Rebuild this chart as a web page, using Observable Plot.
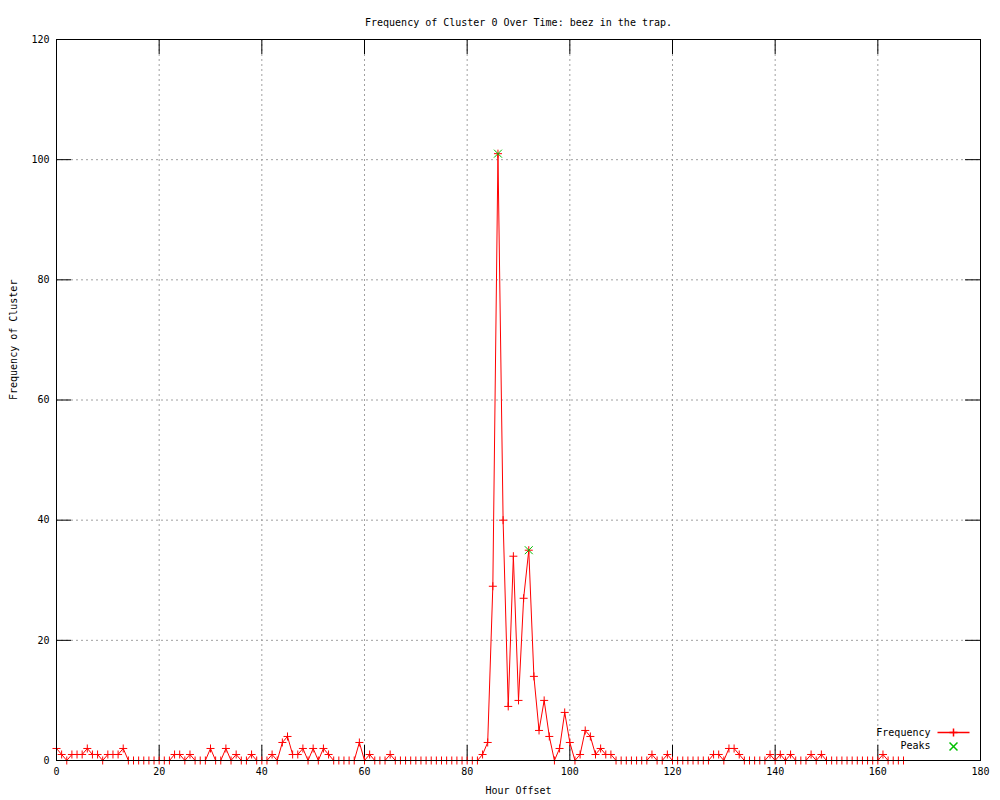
<!DOCTYPE html>
<html>
<head>
<meta charset="utf-8">
<script src="https://cdn.jsdelivr.net/npm/d3@7"></script>
<script src="https://cdn.jsdelivr.net/npm/@observablehq/plot@0.6"></script>
<style>
  html, body { margin: 0; padding: 0; background: #fff; }
</style>
</head>
<body>
<div id="chart"></div>
<script>
// Frequency values, one per hour offset (0 .. 165)
const frequency = [
  2,1,0,1,1,1,2,1,1,0, 1,1,1,2,0,0,0,0,0,0,
  0,0,0,1,1,0,1,0,0,0, 2,0,0,2,0,1,0,0,1,0,
  0,0,1,0,3,4,1,1,2,0, 2,0,2,1,0,0,0,0,0,3,
  0,1,0,0,0,1,0,0,0,0, 0,0,0,0,0,0,0,0,0,0,
  0,0,0,1,3,29,101,40,9,34, 10,27,35,14,5,10,4,0,2,8,
  3,0,1,5,4,1,2,1,1,0, 0,0,0,0,0,0,1,0,0,1,
  0,0,0,0,0,0,0,0,1,1, 0,2,2,1,0,0,0,0,0,1,
  0,1,0,1,0,0,0,1,0,1, 0,0,0,0,0,0,0,0,0,0,
  0,1,0,0,0,0
];
const hours = d3.range(frequency.length);
const peakHours = [86, 92];
const peakValues = [101, 35];
const xTicks = [0, 20, 40, 60, 80, 100, 120, 140, 160, 180];
const yTicks = [0, 20, 40, 60, 80, 100, 120];
const titleText = "Frequency of Cluster 0 Over Time: beez in the trap.";
const xLabel = "Hour Offset";
const yLabel = "Frequency of Cluster";
const legendLabels = ["Frequency", "Peaks"];

const series = hours.map((h, i) => ({hour: h, freq: frequency[i]}));
const peaks = peakHours.map((h, i) => ({hour: h, freq: peakValues[i]}));

const W = 1000, H = 800, ML = 56, MR = 20, MT = 39, MB = 40;
const innerW = W - ML - MR, innerH = H - MT - MB;
const TICK = 15;
const RED = "#ff0000", GREEN = "#00c000";

const hline = {
  draw(ctx, size) {
    const l = Math.sqrt(size / Math.PI);
    ctx.moveTo(-l, 0);
    ctx.lineTo(l, 0);
  }
};

const innerX = xTicks.filter(d => d > 0 && d < 180);
const innerY = yTicks.filter(d => d > 0 && d < 120);

const chart = Plot.plot({
  width: W, height: H,
  marginLeft: ML, marginRight: MR, marginTop: MT, marginBottom: MB,
  x: {domain: [0, 180], axis: null},
  y: {domain: [0, 120], axis: null},
  style: {fontFamily: "'DejaVu Sans Mono', monospace", fontSize: "10px", background: "#fff", color: "#000"},
  marks: [
    // grid
    Plot.ruleX(innerX, {x: d => d, stroke: "#a0a0a0", strokeDasharray: "2,3", strokeWidth: 1}),
    Plot.ruleY(innerY, {y: d => d, stroke: "#a0a0a0", strokeDasharray: "2,3", strokeWidth: 1}),
    // ticks (inward, mirrored)
    Plot.ruleX(xTicks, {x: d => d, insetTop: innerH - TICK, stroke: "#000"}),
    Plot.ruleX(xTicks, {x: d => d, insetBottom: innerH - TICK, stroke: "#000"}),
    Plot.ruleY(yTicks, {y: d => d, insetRight: innerW - TICK, stroke: "#000"}),
    Plot.ruleY(yTicks, {y: d => d, insetLeft: innerW - TICK, stroke: "#000"}),
    // tick labels
    Plot.text(xTicks, {x: d => d, frameAnchor: "bottom", dy: 14, text: d => String(d), fill: "#000"}),
    Plot.text(yTicks, {y: d => d, frameAnchor: "left", dx: -7, textAnchor: "end", text: d => String(d), fill: "#000"}),
    // data
    Plot.line(series, {x: "hour", y: "freq", stroke: RED, strokeWidth: 1}),
    Plot.dot(series, {x: "hour", y: "freq", symbol: "plus", r: 2.7, stroke: RED, fill: "none", strokeWidth: 1}),
    Plot.dot(peaks, {x: "hour", y: "freq", symbol: "times", r: 3.7, stroke: GREEN, fill: "none", strokeWidth: 1}),
    // frame
    Plot.frame({stroke: "#000", strokeWidth: 1}),
    // title and axis labels
    Plot.text([titleText], {frameAnchor: "top", dy: -21, text: d => d, fill: "#000"}),
    Plot.text([xLabel], {frameAnchor: "bottom", dy: 33, text: d => d, fill: "#000"}),
    Plot.text([yLabel], {frameAnchor: "left", dx: -43, rotate: -90, text: d => d, fill: "#000"}),
    // legend
    Plot.text([legendLabels[0]], {frameAnchor: "bottom-right", dx: -50, dy: -25, textAnchor: "end", text: d => d, fill: "#000"}),
    Plot.text([legendLabels[1]], {frameAnchor: "bottom-right", dx: -50, dy: -12, textAnchor: "end", text: d => d, fill: "#000"}),
    Plot.dot([legendLabels[0]], {frameAnchor: "bottom-right", dx: -27, dy: -28, symbol: hline, r: 16, stroke: RED, fill: "none"}),
    Plot.dot([legendLabels[0]], {frameAnchor: "bottom-right", dx: -27, dy: -28, symbol: "plus", r: 2.7, stroke: RED, fill: "none"}),
    Plot.dot([legendLabels[1]], {frameAnchor: "bottom-right", dx: -27, dy: -14, symbol: "times", r: 3.7, stroke: GREEN, fill: "none"})
  ]
});
document.getElementById("chart").appendChild(chart);
</script>
</body>
</html>
